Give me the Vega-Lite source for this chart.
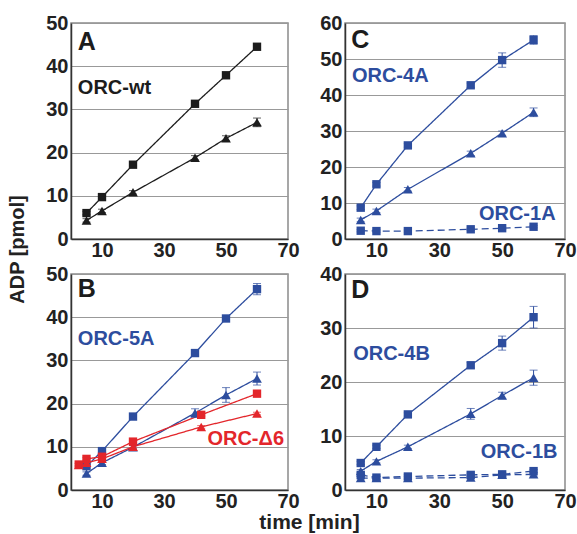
{
  "$schema": "https://vega.github.io/schema/vega-lite/v6.json",
  "padding": {"left": 6, "top": 12, "right": 0, "bottom": 0},
  "background": "white",
  "config": {
    "font": "Liberation Sans",
    "view": {"stroke": "#8a8a8a", "strokeWidth": 1.5},
    "axis": {
      "labelFont": "Liberation Sans", "labelFontWeight": "bold", "labelFontSize": 20, "labelColor": "#222",
      "ticks": false, "domainColor": "#333", "domainWidth": 1.5,
      "gridColor": "#999", "gridWidth": 1, "labelPadding": 3,
      "labelFlush": false, "labelOverlap": false,
      "titleFont": "Liberation Sans", "titleFontSize": 20, "titleFontWeight": "bold", "titleColor": "#222"
    },
    "axisX": {"grid": false, "labelPadding": 1},
    "axisY": {"grid": true}
  },
  "datasets": {
    "adp": [
      {"panel": "A", "construct": "wt", "condition": "a", "time": 5, "adp": 6.0, "err": 0.4},
      {"panel": "A", "construct": "wt", "condition": "a", "time": 10, "adp": 9.7, "err": 0.4},
      {"panel": "A", "construct": "wt", "condition": "a", "time": 20, "adp": 17.2, "err": 0.4},
      {"panel": "A", "construct": "wt", "condition": "a", "time": 40, "adp": 31.3, "err": 0.5},
      {"panel": "A", "construct": "wt", "condition": "a", "time": 50, "adp": 37.9, "err": 0.6},
      {"panel": "A", "construct": "wt", "condition": "a", "time": 60, "adp": 44.5, "err": 0.5},
      {"panel": "A", "construct": "wt", "condition": "b", "time": 5, "adp": 4.3, "err": 0.4},
      {"panel": "A", "construct": "wt", "condition": "b", "time": 10, "adp": 6.5, "err": 0.4},
      {"panel": "A", "construct": "wt", "condition": "b", "time": 20, "adp": 10.8, "err": 0.4},
      {"panel": "A", "construct": "wt", "condition": "b", "time": 40, "adp": 18.8, "err": 0.5},
      {"panel": "A", "construct": "wt", "condition": "b", "time": 50, "adp": 23.3, "err": 0.6},
      {"panel": "A", "construct": "wt", "condition": "b", "time": 60, "adp": 27.0, "err": 1.0},

      {"panel": "C", "construct": "4A", "condition": "a", "time": 5, "adp": 8.7, "err": 0.5},
      {"panel": "C", "construct": "4A", "condition": "a", "time": 10, "adp": 15.2, "err": 0.5},
      {"panel": "C", "construct": "4A", "condition": "a", "time": 20, "adp": 26.0, "err": 0.5},
      {"panel": "C", "construct": "4A", "condition": "a", "time": 40, "adp": 42.7, "err": 0.6},
      {"panel": "C", "construct": "4A", "condition": "a", "time": 50, "adp": 49.7, "err": 2.0},
      {"panel": "C", "construct": "4A", "condition": "a", "time": 60, "adp": 55.3, "err": 1.2},
      {"panel": "C", "construct": "4A", "condition": "b", "time": 5, "adp": 5.3, "err": 0.5},
      {"panel": "C", "construct": "4A", "condition": "b", "time": 10, "adp": 7.8, "err": 0.5},
      {"panel": "C", "construct": "4A", "condition": "b", "time": 20, "adp": 13.8, "err": 0.5},
      {"panel": "C", "construct": "4A", "condition": "b", "time": 40, "adp": 23.8, "err": 0.6},
      {"panel": "C", "construct": "4A", "condition": "b", "time": 50, "adp": 29.4, "err": 0.6},
      {"panel": "C", "construct": "4A", "condition": "b", "time": 60, "adp": 35.2, "err": 1.2},
      {"panel": "C", "construct": "1A", "condition": "a", "time": 5, "adp": 2.3, "err": 0.3},
      {"panel": "C", "construct": "1A", "condition": "a", "time": 10, "adp": 2.2, "err": 0.3},
      {"panel": "C", "construct": "1A", "condition": "a", "time": 20, "adp": 2.2, "err": 0.3},
      {"panel": "C", "construct": "1A", "condition": "a", "time": 40, "adp": 2.7, "err": 0.3},
      {"panel": "C", "construct": "1A", "condition": "a", "time": 50, "adp": 3.0, "err": 0.3},
      {"panel": "C", "construct": "1A", "condition": "a", "time": 60, "adp": 3.4, "err": 0.3},

      {"panel": "B", "construct": "5A", "condition": "a", "time": 5, "adp": 5.5, "err": 0.4},
      {"panel": "B", "construct": "5A", "condition": "a", "time": 10, "adp": 9.0, "err": 0.4},
      {"panel": "B", "construct": "5A", "condition": "a", "time": 20, "adp": 17.0, "err": 0.4},
      {"panel": "B", "construct": "5A", "condition": "a", "time": 40, "adp": 31.7, "err": 0.5},
      {"panel": "B", "construct": "5A", "condition": "a", "time": 50, "adp": 39.7, "err": 0.6},
      {"panel": "B", "construct": "5A", "condition": "a", "time": 60, "adp": 46.5, "err": 1.3},
      {"panel": "B", "construct": "5A", "condition": "b", "time": 5, "adp": 3.8, "err": 0.4},
      {"panel": "B", "construct": "5A", "condition": "b", "time": 10, "adp": 6.3, "err": 0.4},
      {"panel": "B", "construct": "5A", "condition": "b", "time": 20, "adp": 9.9, "err": 0.4},
      {"panel": "B", "construct": "5A", "condition": "b", "time": 40, "adp": 17.8, "err": 1.0},
      {"panel": "B", "construct": "5A", "condition": "b", "time": 50, "adp": 22.0, "err": 1.7},
      {"panel": "B", "construct": "5A", "condition": "b", "time": 60, "adp": 25.8, "err": 1.5},
      {"panel": "B", "construct": "Δ6", "condition": "a", "time": 2.5, "adp": 5.9, "err": 0.3},
      {"panel": "B", "construct": "Δ6", "condition": "a", "time": 5, "adp": 7.2, "err": 0.3},
      {"panel": "B", "construct": "Δ6", "condition": "a", "time": 10, "adp": 7.7, "err": 0.3},
      {"panel": "B", "construct": "Δ6", "condition": "a", "time": 20, "adp": 11.2, "err": 0.3},
      {"panel": "B", "construct": "Δ6", "condition": "a", "time": 42, "adp": 17.4, "err": 0.3},
      {"panel": "B", "construct": "Δ6", "condition": "a", "time": 60, "adp": 22.3, "err": 0.3},
      {"panel": "B", "construct": "Δ6", "condition": "b", "time": 2.5, "adp": 5.8, "err": 0.3},
      {"panel": "B", "construct": "Δ6", "condition": "b", "time": 5, "adp": 6.3, "err": 0.3},
      {"panel": "B", "construct": "Δ6", "condition": "b", "time": 10, "adp": 7.2, "err": 0.3},
      {"panel": "B", "construct": "Δ6", "condition": "b", "time": 20, "adp": 10.0, "err": 0.3},
      {"panel": "B", "construct": "Δ6", "condition": "b", "time": 42, "adp": 14.6, "err": 0.3},
      {"panel": "B", "construct": "Δ6", "condition": "b", "time": 60, "adp": 17.7, "err": 0.3},

      {"panel": "D", "construct": "4B", "condition": "a", "time": 5, "adp": 5.0, "err": 0.3},
      {"panel": "D", "construct": "4B", "condition": "a", "time": 10, "adp": 8.0, "err": 0.3},
      {"panel": "D", "construct": "4B", "condition": "a", "time": 20, "adp": 14.0, "err": 0.3},
      {"panel": "D", "construct": "4B", "condition": "a", "time": 40, "adp": 23.1, "err": 0.5},
      {"panel": "D", "construct": "4B", "condition": "a", "time": 50, "adp": 27.2, "err": 1.3},
      {"panel": "D", "construct": "4B", "condition": "a", "time": 60, "adp": 32.0, "err": 2.0},
      {"panel": "D", "construct": "4B", "condition": "b", "time": 5, "adp": 3.5, "err": 0.3},
      {"panel": "D", "construct": "4B", "condition": "b", "time": 10, "adp": 5.3, "err": 0.3},
      {"panel": "D", "construct": "4B", "condition": "b", "time": 20, "adp": 8.0, "err": 0.3},
      {"panel": "D", "construct": "4B", "condition": "b", "time": 40, "adp": 14.1, "err": 1.0},
      {"panel": "D", "construct": "4B", "condition": "b", "time": 50, "adp": 17.5, "err": 0.6},
      {"panel": "D", "construct": "4B", "condition": "b", "time": 60, "adp": 20.8, "err": 1.4},
      {"panel": "D", "construct": "1B", "condition": "a", "time": 5, "adp": 2.8, "err": 0.3},
      {"panel": "D", "construct": "1B", "condition": "a", "time": 10, "adp": 2.3, "err": 0.3},
      {"panel": "D", "construct": "1B", "condition": "a", "time": 20, "adp": 2.5, "err": 0.3},
      {"panel": "D", "construct": "1B", "condition": "a", "time": 40, "adp": 2.8, "err": 0.3},
      {"panel": "D", "construct": "1B", "condition": "a", "time": 50, "adp": 2.9, "err": 0.3},
      {"panel": "D", "construct": "1B", "condition": "a", "time": 60, "adp": 3.5, "err": 0.3},
      {"panel": "D", "construct": "1B", "condition": "b", "time": 5, "adp": 2.2, "err": 0.3},
      {"panel": "D", "construct": "1B", "condition": "b", "time": 10, "adp": 2.2, "err": 0.3},
      {"panel": "D", "construct": "1B", "condition": "b", "time": 20, "adp": 2.2, "err": 0.3},
      {"panel": "D", "construct": "1B", "condition": "b", "time": 40, "adp": 2.3, "err": 0.3},
      {"panel": "D", "construct": "1B", "condition": "b", "time": 50, "adp": 2.8, "err": 0.3},
      {"panel": "D", "construct": "1B", "condition": "b", "time": 60, "adp": 2.9, "err": 0.3}
    ],
    "one": [{"k": 1}]
  },
  "columns": 2,
  "spacing": {"row": 35, "column": 57},
  "bounds": "flush",
  "concat": [
    {
      "width": 217, "height": 216,
      "layer": [
        {
          "data": {"name": "adp"},
          "transform": [{"filter": "datum.panel == 'A'"}],
          "encoding": {
            "x": {"field": "time", "type": "quantitative", "scale": {"domain": [0, 70], "nice": false}, "axis": {"values": [10, 30, 50, 70], "title": null}},
            "y": {"field": "adp", "type": "quantitative", "scale": {"domain": [0, 50], "nice": false}, "axis": {"values": [0, 10, 20, 30, 40, 50], "grid": true, "title": "ADP [pmol]", "titleX": -44, "titleY": 226}},
            "color": {"field": "construct", "type": "nominal", "legend": null, "scale": {"domain": ["wt", "5A", "Δ6", "4A", "1A", "4B", "1B"], "range": ["#1c1c1c", "#2d4d9e", "#e3262b", "#2d4d9e", "#2d4d9e", "#2d4d9e", "#2d4d9e"]}}
          },
          "layer": [
            {"mark": {"type": "line", "strokeWidth": 1.3}, "encoding": {"detail": {"field": "condition"}, "strokeDash": {"field": "construct", "type": "nominal", "legend": null, "scale": {"domain": ["wt", "5A", "Δ6", "4A", "1A", "4B", "1B"], "range": [[1, 0], [1, 0], [1, 0], [1, 0], [7, 4], [1, 0], [7, 4]]}}}},
            {"mark": {"type": "errorbar", "ticks": {"size": 8}, "rule": {"strokeWidth": 1}}, "encoding": {"yError": {"field": "err"}}},
            {"mark": {"type": "point", "filled": true, "opacity": 1}, "encoding": {"shape": {"field": "condition", "type": "nominal", "legend": null, "scale": {"domain": ["a", "b"], "range": ["square", "triangle-up"]}}, "size": {"field": "condition", "type": "nominal", "legend": null, "scale": {"domain": ["a", "b"], "range": [70, 95]}}}}
          ]
        },
        {"data": {"name": "one"}, "mark": {"type": "text", "text": "A", "font": "Liberation Sans", "fontWeight": "bold", "fontSize": 25, "align": "left", "baseline": "middle", "fill": "#1c1c1c"}, "encoding": {"x": {"datum": 2.2}, "y": {"datum": 45.6}}},
        {"data": {"name": "one"}, "mark": {"type": "text", "text": "ORC-wt", "font": "Liberation Sans", "fontWeight": "bold", "fontSize": 20, "align": "left", "baseline": "middle", "fill": "#1c1c1c"}, "encoding": {"x": {"datum": 2.2}, "y": {"datum": 35}}}
      ]
    },
    {
      "width": 220, "height": 216,
      "layer": [
        {
          "data": {"name": "adp"},
          "transform": [{"filter": "datum.panel == 'C'"}],
          "encoding": {
            "x": {"field": "time", "type": "quantitative", "scale": {"domain": [0, 70], "nice": false}, "axis": {"values": [10, 30, 50, 70], "title": null}},
            "y": {"field": "adp", "type": "quantitative", "scale": {"domain": [0, 60], "nice": false}, "axis": {"values": [0, 10, 20, 30, 40, 50, 60], "grid": true, "title": null}},
            "color": {"field": "construct", "type": "nominal", "legend": null}
          },
          "layer": [
            {"mark": {"type": "line", "strokeWidth": 1.3}, "encoding": {"detail": {"field": "condition"}, "strokeDash": {"field": "construct", "type": "nominal", "legend": null}}},
            {"mark": {"type": "errorbar", "ticks": {"size": 8}, "rule": {"strokeWidth": 1}}, "encoding": {"yError": {"field": "err"}}},
            {"mark": {"type": "point", "filled": true, "opacity": 1}, "encoding": {"shape": {"field": "condition", "type": "nominal", "legend": null}, "size": {"field": "condition", "type": "nominal", "legend": null}}}
          ]
        },
        {"data": {"name": "one"}, "mark": {"type": "text", "text": "C", "font": "Liberation Sans", "fontWeight": "bold", "fontSize": 25, "align": "left", "baseline": "middle", "fill": "#1c1c1c"}, "encoding": {"x": {"datum": 2.0}, "y": {"datum": 55.3, "axis": {"values": [0, 10, 20, 30, 40, 50, 60], "grid": true, "title": null}}}},
        {"data": {"name": "one"}, "mark": {"type": "text", "text": "ORC-4A", "font": "Liberation Sans", "fontWeight": "bold", "fontSize": 20, "align": "left", "baseline": "middle", "fill": "#2d4d9e"}, "encoding": {"x": {"datum": 2.2}, "y": {"datum": 45.3, "axis": {"values": [0, 10, 20, 30, 40, 50, 60], "grid": true, "title": null}}}},
        {"data": {"name": "one"}, "mark": {"type": "text", "text": "ORC-1A", "font": "Liberation Sans", "fontWeight": "bold", "fontSize": 20, "align": "right", "baseline": "middle", "fill": "#2d4d9e"}, "encoding": {"x": {"datum": 67}, "y": {"datum": 7, "axis": {"values": [0, 10, 20, 30, 40, 50, 60], "grid": true, "title": null}}}}
      ]
    },
    {
      "width": 217, "height": 216,
      "layer": [
        {
          "data": {"name": "adp"},
          "transform": [{"filter": "datum.panel == 'B'"}],
          "encoding": {
            "x": {"field": "time", "type": "quantitative", "scale": {"domain": [0, 70], "nice": false}, "axis": {"values": [10, 30, 50, 70], "title": null}},
            "y": {"field": "adp", "type": "quantitative", "scale": {"domain": [0, 50], "nice": false}, "axis": {"values": [0, 10, 20, 30, 40, 50], "grid": true, "title": null}},
            "color": {"field": "construct", "type": "nominal", "legend": null}
          },
          "layer": [
            {"mark": {"type": "line", "strokeWidth": 1.3}, "encoding": {"detail": {"field": "condition"}, "strokeDash": {"field": "construct", "type": "nominal", "legend": null}}},
            {"mark": {"type": "errorbar", "ticks": {"size": 8}, "rule": {"strokeWidth": 1}}, "encoding": {"yError": {"field": "err"}}},
            {"mark": {"type": "point", "filled": true, "opacity": 1}, "encoding": {"shape": {"field": "condition", "type": "nominal", "legend": null}, "size": {"field": "condition", "type": "nominal", "legend": null}}}
          ]
        },
        {"data": {"name": "one"}, "mark": {"type": "text", "text": "B", "font": "Liberation Sans", "fontWeight": "bold", "fontSize": 25, "align": "left", "baseline": "middle", "fill": "#1c1c1c"}, "encoding": {"x": {"datum": 2.2}, "y": {"datum": 46.5}}},
        {"data": {"name": "one"}, "mark": {"type": "text", "text": "ORC-5A", "font": "Liberation Sans", "fontWeight": "bold", "fontSize": 20, "align": "left", "baseline": "middle", "fill": "#2d4d9e"}, "encoding": {"x": {"datum": 2.2}, "y": {"datum": 35}}},
        {"data": {"name": "one"}, "mark": {"type": "text", "text": "ORC-Δ6", "font": "Liberation Sans", "fontWeight": "bold", "fontSize": 20, "align": "left", "baseline": "middle", "fill": "#e3262b"}, "encoding": {"x": {"datum": 44}, "y": {"datum": 11.9}}}
      ]
    },
    {
      "width": 220, "height": 216,
      "layer": [
        {
          "data": {"name": "adp"},
          "transform": [{"filter": "datum.panel == 'D'"}],
          "encoding": {
            "x": {"field": "time", "type": "quantitative", "scale": {"domain": [0, 70], "nice": false}, "axis": {"values": [10, 30, 50, 70], "title": "time [min]", "titleX": -36, "titleY": 21, "titleFontSize": 21}},
            "y": {"field": "adp", "type": "quantitative", "scale": {"domain": [0, 40], "nice": false}, "axis": {"values": [0, 10, 20, 30, 40], "grid": true, "title": null}},
            "color": {"field": "construct", "type": "nominal", "legend": null}
          },
          "layer": [
            {"mark": {"type": "line", "strokeWidth": 1.3}, "encoding": {"detail": {"field": "condition"}, "strokeDash": {"field": "construct", "type": "nominal", "legend": null}}},
            {"mark": {"type": "errorbar", "ticks": {"size": 8}, "rule": {"strokeWidth": 1}}, "encoding": {"yError": {"field": "err"}}},
            {"mark": {"type": "point", "filled": true, "opacity": 1}, "encoding": {"shape": {"field": "condition", "type": "nominal", "legend": null}, "size": {"field": "condition", "type": "nominal", "legend": null}}}
          ]
        },
        {"data": {"name": "one"}, "mark": {"type": "text", "text": "D", "font": "Liberation Sans", "fontWeight": "bold", "fontSize": 25, "align": "left", "baseline": "middle", "fill": "#1c1c1c"}, "encoding": {"x": {"datum": 2.0}, "y": {"datum": 37}}},
        {"data": {"name": "one"}, "mark": {"type": "text", "text": "ORC-4B", "font": "Liberation Sans", "fontWeight": "bold", "fontSize": 20, "align": "left", "baseline": "middle", "fill": "#2d4d9e"}, "encoding": {"x": {"datum": 2.6}, "y": {"datum": 25.1}}},
        {"data": {"name": "one"}, "mark": {"type": "text", "text": "ORC-1B", "font": "Liberation Sans", "fontWeight": "bold", "fontSize": 20, "align": "right", "baseline": "middle", "fill": "#2d4d9e"}, "encoding": {"x": {"datum": 67.6}, "y": {"datum": 7.1}}}
      ]
    }
  ]
}
